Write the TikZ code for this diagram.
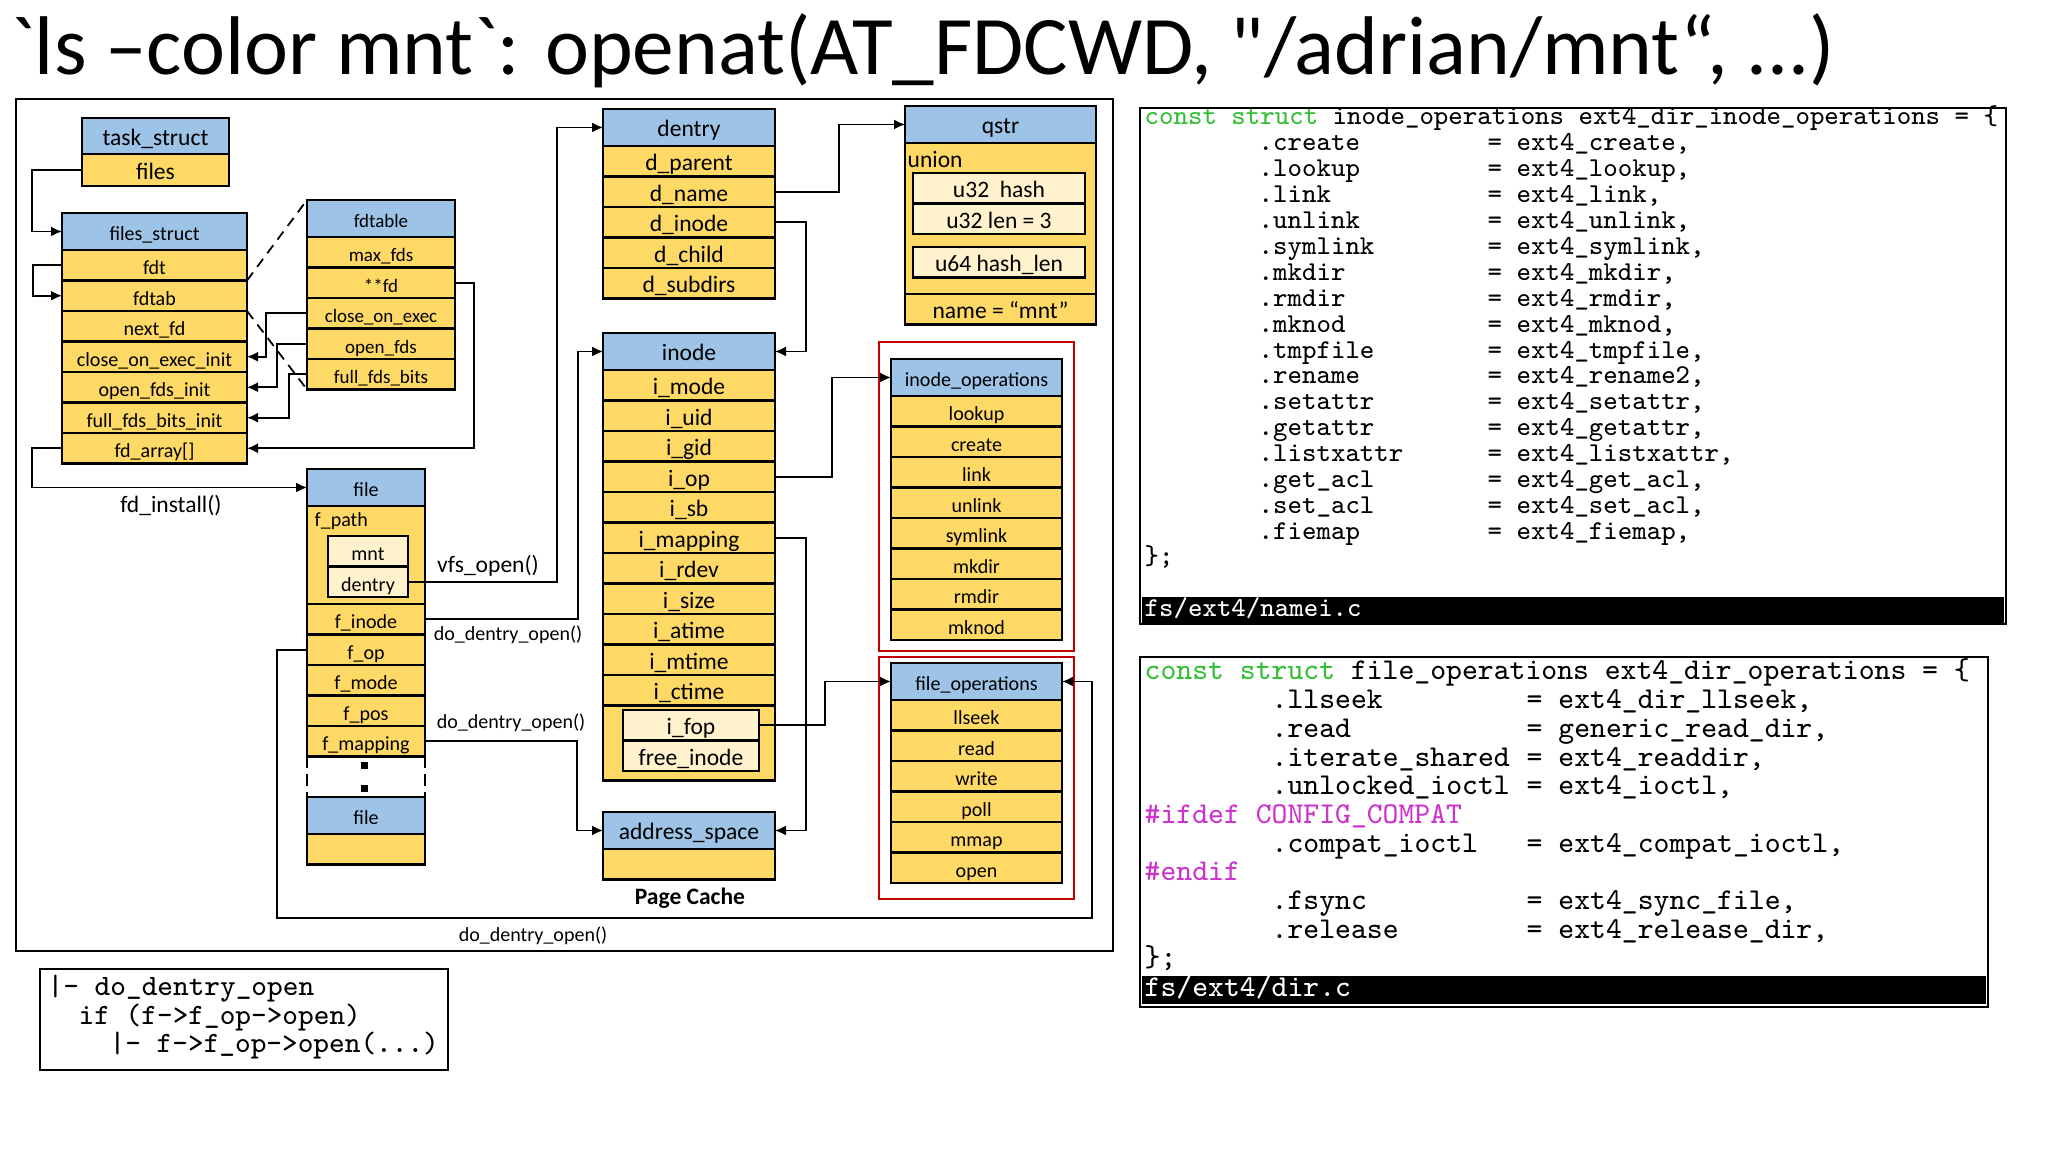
\documentclass[tikz,border=0pt]{standalone}
\usepackage{fontspec}
\setmainfont{Carlito}
\newfontfamily\titlefont{Carlito}[Ligatures=TeXOff]
\usetikzlibrary{arrows.meta,positioning}
\definecolor{hdrblue}{RGB}{157,195,230}
\definecolor{fldyel}{RGB}{255,217,102}
\definecolor{subcream}{RGB}{255,242,204}
\definecolor{opsred}{RGB}{192,0,0}
\definecolor{kwgreen}{RGB}{51,190,51}
\definecolor{ppmag}{RGB}{204,51,204}
\newcommand\bigf{\fontsize{6.7}{8}\selectfont}
\newcommand\smallf{\fontsize{5.7}{7}\selectfont}
\newcommand\tinyf{\fontsize{5.4}{6.5}\selectfont}

\begin{document}
\begin{tikzpicture}[x=0.1mm, y=-0.1mm, >={Latex[length=1.1mm,width=1mm]},
  hdr/.style={draw, line width=0.6pt, fill=hdrblue, inner sep=0pt, outer sep=0pt, minimum width=#1, minimum height=3.7mm, text height=2mm, text depth=0.1mm},
  fld/.style={draw, line width=0.6pt, fill=fldyel, inner sep=0pt, outer sep=0pt, minimum width=#1, minimum height=3.05mm, text height=2mm, text depth=0.1mm},
  sub/.style={fld=#1, fill=subcream},
  lnk/.style={->, line width=0.5pt},
  zoomln/.style={line width=0.5pt, dash pattern=on 1mm off 0.7mm},
  lbl/.style={inner sep=0pt},
  code1/.style={inner sep=0pt, anchor=base west, font=\ttfamily\fontsize{7.75}{9}\selectfont},
  code2/.style={inner sep=0pt, anchor=base west, font=\ttfamily\fontsize{8.6}{10}\selectfont},
  code3/.style={inner sep=0pt, anchor=base west, font=\ttfamily\fontsize{8.4}{10}\selectfont}]
  \useasboundingbox (0,0) rectangle (2048,1152);
  \fill[white] (0,0) rectangle (2048,1152);

  \node[anchor=base west, inner sep=0pt, font=\titlefont\fontsize{23.7}{28}\selectfont] (title) at (10,75)
    {`ls –color mnt`: openat(AT\_FDCWD, "/adrian/mnt“, ...)};
  \draw[line width=0.8pt] (16,99) rectangle (1113,951);

  % task_struct / files_struct / fdtable
  \node[hdr=14.7mm, minimum height=3.6mm, font=\bigf, anchor=north] (tsHdr) at (155.5,118) {task\_struct};
  \node[fld=14.7mm, minimum height=3.2mm, font=\bigf, below=0pt of tsHdr] (tsFiles) {files};

  \begin{scope}[font=\smallf]
  \node[hdr=18.5mm, anchor=north] (fsHdr) at (154.5,213) {files\_struct};
  \node[fld=18.5mm, below=0pt of fsHdr] (fsFdt) {fdt};
  \node[fld=18.5mm, below=0pt of fsFdt] (fsFdtab) {fdtab};
  \node[fld=18.5mm, below=0pt of fsFdtab] (fsNext) {next\_fd};
  \node[fld=18.5mm, below=0pt of fsNext] (fsCoe) {close\_on\_exec\_init};
  \node[fld=18.5mm, below=0pt of fsCoe] (fsOpen) {open\_fds\_init};
  \node[fld=18.5mm, below=0pt of fsOpen] (fsBits) {full\_fds\_bits\_init};
  \node[fld=18.5mm, below=0pt of fsBits] (fsArr) {fd\_array[]};
  \end{scope}

  \begin{scope}[font=\tinyf]
  \node[hdr=14.8mm, anchor=north] (fdHdr) at (381,200) {fdtable};
  \node[fld=14.8mm, below=0pt of fdHdr] (fdMax) {max\_fds};
  \node[fld=14.8mm, below=0pt of fdMax] (fdFd) {**fd};
  \node[fld=14.8mm, below=0pt of fdFd] (fdCoe) {close\_on\_exec};
  \node[fld=14.8mm, below=0pt of fdCoe] (fdOpen) {open\_fds};
  \node[fld=14.8mm, below=0pt of fdOpen] (fdBits) {full\_fds\_bits};
  \end{scope}

  % file
  \begin{scope}[font=\smallf]
  \node[hdr=11.8mm, anchor=north] (fHdr) at (366,469) {file};
  \node[fld=11.8mm, minimum height=9.8mm, below=0pt of fHdr] (fPath) {};
  \node[lbl, anchor=west] (fPathLbl) at (314,521) {f\_path};
  \node[sub=8mm, anchor=north] (fMnt) at (368,536) {mnt};
  \node[sub=8mm, below=0pt of fMnt] (fDentry) {dentry};
  \node[fld=11.8mm, below=0pt of fPath] (fInode) {f\_inode};
  \node[fld=11.8mm, below=0pt of fInode] (fOp) {f\_op};
  \node[fld=11.8mm, below=0pt of fOp] (fMode) {f\_mode};
  \node[fld=11.8mm, below=0pt of fMode] (fPos) {f\_pos};
  \node[fld=11.8mm, below=0pt of fPos] (fMap) {f\_mapping};
  \node[hdr=11.8mm, anchor=north] (f2Hdr) at (366,797) {file};
  \node[fld=11.8mm, below=0pt of f2Hdr] (f2Row) {};
  \end{scope}
  \draw[line width=0.6pt, dash pattern=on 1.2mm off 0.6mm] (fMap.south west) -- (f2Hdr.north west);
  \draw[line width=0.6pt, dash pattern=on 1.2mm off 0.6mm] (fMap.south east) -- (f2Hdr.north east);
  \node[fill, minimum size=0.7mm, inner sep=0pt] (dotA) at (364,766) {};
  \node[fill, minimum size=0.7mm, inner sep=0pt] (dotB) at (364,789) {};

  % dentry, qstr, inode, address_space
  \begin{scope}[font=\bigf]
  \node[hdr=17.2mm, anchor=north] (dnHdr) at (689,109) {dentry};
  \node[fld=17.2mm, below=0pt of dnHdr] (dnParent) {d\_parent};
  \node[fld=17.2mm, below=0pt of dnParent] (dnName) {d\_name};
  \node[fld=17.2mm, below=0pt of dnName] (dnInode) {d\_inode};
  \node[fld=17.2mm, below=0pt of dnInode] (dnChild) {d\_child};
  \node[fld=17.2mm, below=0pt of dnChild] (dnSubdirs) {d\_subdirs};

  \node[hdr=19.1mm, anchor=north] (qsHdr) at (1000.5,106) {qstr};
  \node[fld=19.1mm, minimum height=15.1mm, below=0pt of qsHdr] (qsBody) {};
  \node[fld=19.1mm, below=0pt of qsBody] (qsName) {name = “mnt”};
  \node[lbl, anchor=west] (qsUnion) at (907,160) {union};
  \node[sub=17.2mm, anchor=north] (qsHash) at (999,173) {u32\ \ hash};
  \node[sub=17.2mm, below=0pt of qsHash] (qsLen) {u32 len = 3};
  \node[sub=17.2mm, anchor=north] (qsHlen) at (999,247) {u64 hash\_len};

  \node[hdr=17.2mm, anchor=north] (inHdr) at (689,333) {inode};
  \node[fld=17.2mm, below=0pt of inHdr] (inMode) {i\_mode};
  \node[fld=17.2mm, below=0pt of inMode] (inUid) {i\_uid};
  \node[fld=17.2mm, below=0pt of inUid] (inGid) {i\_gid};
  \node[fld=17.2mm, below=0pt of inGid] (inOp) {i\_op};
  \node[fld=17.2mm, below=0pt of inOp] (inSb) {i\_sb};
  \node[fld=17.2mm, below=0pt of inSb] (inMap) {i\_mapping};
  \node[fld=17.2mm, below=0pt of inMap] (inRdev) {i\_rdev};
  \node[fld=17.2mm, below=0pt of inRdev] (inSize) {i\_size};
  \node[fld=17.2mm, below=0pt of inSize] (inAtime) {i\_atime};
  \node[fld=17.2mm, below=0pt of inAtime] (inMtime) {i\_mtime};
  \node[fld=17.2mm, below=0pt of inMtime] (inCtime) {i\_ctime};
  \node[fld=17.2mm, minimum height=7.5mm, below=0pt of inCtime] (inBody) {};
  \node[sub=13.6mm, anchor=north] (inFop) at (691,710) {i\_fop};
  \node[sub=13.6mm, below=0pt of inFop] (inFree) {free\_inode};

  \node[hdr=17.2mm, anchor=north] (asHdr) at (689,812) {address\_space};
  \node[fld=17.2mm, below=0pt of asHdr] (asRow) {};
  \node[lbl, font=\bigf\bfseries] (pgCache) at (690,898) {Page Cache};
  \end{scope}

  % operations
  \begin{scope}[font=\smallf]
  \node[hdr=17.1mm, anchor=north] (ioHdr) at (976.5,359) {inode\_operations};
  \node[fld=17.1mm, below=0pt of ioHdr] (ioLookup) {lookup};
  \node[fld=17.1mm, below=0pt of ioLookup] (ioCreate) {create};
  \node[fld=17.1mm, below=0pt of ioCreate] (ioLink) {link};
  \node[fld=17.1mm, below=0pt of ioLink] (ioUnlink) {unlink};
  \node[fld=17.1mm, below=0pt of ioUnlink] (ioSymlink) {symlink};
  \node[fld=17.1mm, below=0pt of ioSymlink] (ioMkdir) {mkdir};
  \node[fld=17.1mm, below=0pt of ioMkdir] (ioRmdir) {rmdir};
  \node[fld=17.1mm, below=0pt of ioRmdir] (ioMknod) {mknod};

  \node[hdr=17.1mm, anchor=north] (foHdr) at (976.5,663) {file\_operations};
  \node[fld=17.1mm, below=0pt of foHdr] (foLlseek) {llseek};
  \node[fld=17.1mm, below=0pt of foLlseek] (foRead) {read};
  \node[fld=17.1mm, below=0pt of foRead] (foWrite) {write};
  \node[fld=17.1mm, below=0pt of foWrite] (foPoll) {poll};
  \node[fld=17.1mm, below=0pt of foPoll] (foMmap) {mmap};
  \node[fld=17.1mm, below=0pt of foMmap] (foOpen) {open};
  \end{scope}
  \draw[opsred, line width=0.7pt] (879,342) rectangle (1074,651);
  \draw[opsred, line width=0.7pt] (879,657) rectangle (1074,899);

  % links
  \draw[lnk] (tsFiles.west) -- ++(-50,0) |- (fsHdr.west);
  \draw[lnk] (fsFdt.west) -- ++(-29,0) |- (fsFdtab.west);
  \draw[zoomln] (fsFdt.south east) -- (fdHdr.north west);
  \draw[zoomln] (fsFdtab.south east) -- (fdBits.south west);
  \draw[lnk] (fdCoe.west) -- ++(-41,0) |- (fsCoe.east);
  \draw[lnk] (fdOpen.west) -- ++(-30,0) |- (fsOpen.east);
  \draw[lnk] (fdBits.west) -- ++(-18,0) |- (fsBits.east);
  \draw[lnk] (fdFd.east) -- ++(19,0) |- (fsArr.east);
  \draw[lnk] (fsArr.west) -- ++(-30,0) |- (fHdr.west);
  \draw[lnk] (fDentry.east) -- ++(149,0) |- (dnHdr.west);
  \draw[lnk] (fInode.east) -- ++(153,0) |- (inHdr.west);
  \draw[lnk] (fMap.east) -- ++(152,0) |- (asHdr.west);
  \coordinate (ddoTurn) at (1092,918);
  \draw[lnk] (fOp.west) -- ++(-30,0) |- (ddoTurn) |- (foHdr.east);
  \draw[lnk] (dnName.east) -- ++(64,0) |- (qsHdr.west);
  \draw[lnk] (dnInode.east) -- ++(31,0) |- (inHdr.east);
  \draw[lnk] (inOp.east) -- ++(57,0) |- (ioHdr.west);
  \draw[lnk] (inMap.east) -- ++(31,0) |- (asHdr.east);
  \draw[lnk] (inFop.east) -- ++(66,0) |- (foHdr.west);

  \node[lbl, font=\bigf] (fdInstall) at (171,506) {fd\_install()};
  \node[lbl, font=\bigf] (vfsOpen) at (488,566) {vfs\_open()};
  \node[lbl, font=\smallf] (ddoA) at (508,635) {do\_dentry\_open()};
  \node[lbl, font=\smallf] (ddoB) at (511,723) {do\_dentry\_open()};
  \node[lbl, font=\smallf] (ddoC) at (533,936) {do\_dentry\_open()};

  % fs/ext4/namei.c
  \draw[line width=0.7pt] (1140,108) rectangle (2006,624);
  \node[code1] (inoHead) at (1144,125) {\textcolor{kwgreen}{const struct} inode\_operations ext4\_dir\_inode\_operations = \{};
  \foreach \m/\v [count=\k] in {.create/ext4\_create, .lookup/ext4\_lookup, .link/ext4\_link,
      .unlink/ext4\_unlink, .symlink/ext4\_symlink, .mkdir/ext4\_mkdir, .rmdir/ext4\_rmdir,
      .mknod/ext4\_mknod, .tmpfile/ext4\_tmpfile, .rename/ext4\_rename2, .setattr/ext4\_setattr,
      .getattr/ext4\_getattr, .listxattr/ext4\_listxattr, .get\_acl/ext4\_get\_acl,
      .set\_acl/ext4\_set\_acl, .fiemap/ext4\_fiemap}{
    \node[code1] (inoM\k) at (1258,{125+25.9*\k}) {\m};
    \node[code1] (inoV\k) at (1487,{125+25.9*\k}) {= \v,};
  }
  \node[code1] (inoEnd) at (1144,565) {\};};
  \fill (1142,597) rectangle (2004,623);
  \node[code1, text=white] (inoFile) at (1144,617) {fs/ext4/namei.c};

  % fs/ext4/dir.c
  \draw[line width=0.7pt] (1140,657) rectangle (1988,1007);
  \node[code2] (fopHead) at (1144,680) {\textcolor{kwgreen}{const struct} file\_operations ext4\_dir\_operations = \{};
  \foreach \k/\m/\v in {1/.llseek/ext4\_dir\_llseek, 2/.read/generic\_read\_dir,
      3/.iterate\_shared/ext4\_readdir, 4/.unlocked\_ioctl/ext4\_ioctl,
      6/.compat\_ioctl/ext4\_compat\_ioctl, 8/.fsync/ext4\_sync\_file,
      9/.release/ext4\_release\_dir}{
    \node[code2] (fopM\k) at (1271,{680+28.7*\k}) {\m};
    \node[code2] (fopV\k) at (1526,{680+28.7*\k}) {= \v,};
  }
  \node[code2, text=ppmag] (fopIf) at (1144,{680+28.7*5}) {\#ifdef CONFIG\_COMPAT};
  \node[code2, text=ppmag] (fopEndif) at (1144,{680+28.7*7}) {\#endif};
  \node[code2] (fopEnd) at (1144,967) {\};};
  \fill (1142,976) rectangle (1986,1004);
  \node[code2, text=white] (fopFile) at (1144,997) {fs/ext4/dir.c};

  % call chain
  \draw[line width=0.7pt] (40,969) rectangle (448,1070);
  \node[code3] (callA) at (47,996) {|- do\_dentry\_open};
  \node[code3] (callB) at (78,1024) {if (f->f\_op->open)};
  \node[code3] (callC) at (109,1053) {|- f->f\_op->open(...)};
\end{tikzpicture}
\end{document}
